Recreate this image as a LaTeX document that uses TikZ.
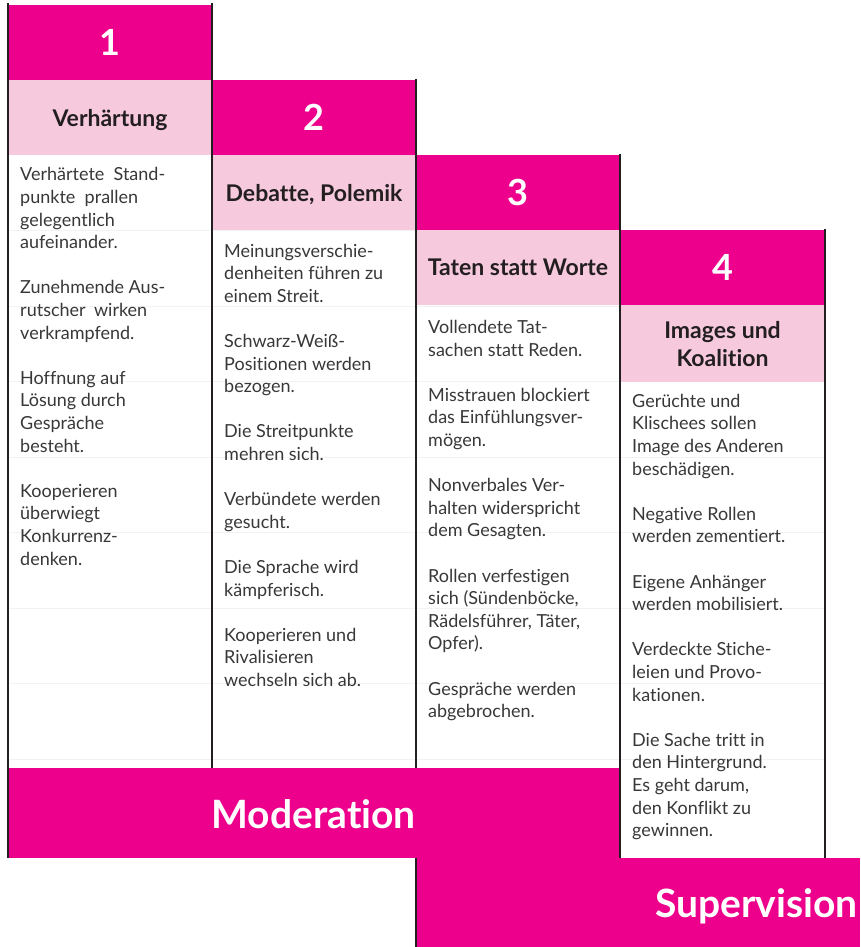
\documentclass[tikz,border=0pt]{standalone}
\usepackage{fontspec}
\setmainfont{Lato}[Ligatures={NoCommon}]
\definecolor{mag}{HTML}{EC008C}
\definecolor{rose}{HTML}{F7C9DD}
\definecolor{ink}{HTML}{231F20}
\definecolor{txt}{HTML}{383838}
\begin{document}
\begin{tikzpicture}[x=1pt,y=-1pt,
  block/.style={rectangle, inner sep=0pt, outer sep=0pt, anchor=north west},
  numbox/.style={block, fill=mag, text=white, font=\bfseries\fontsize{36}{40}\selectfont},
  titlebox/.style={block, fill=rose, text=ink, align=center, text depth=0pt, font=\bfseries\fontsize{23}{28}\selectfont},
  bodytext/.style={anchor=north west, inner sep=0pt, align=left, text=txt, font=\fontsize{18}{22.6}\selectfont},
  band/.style={block, fill=mag},
  bandtext/.style={anchor=base east, inner sep=0pt, text=white, font=\bfseries\fontsize{39}{42}\selectfont},
  rule/.style={ink, line width=2.4pt},
  faint/.style={black!5, line width=0.6pt},
]
\useasboundingbox[fill=white] (0,0) rectangle (860,947);

% faint ruling behind the text columns
\foreach \yy in {230.5,306,381.5,457,532.5,608,683.5,759}
  \draw[faint] (8,\yy) -- (825,\yy);

% column 1
\node[numbox, minimum width=204pt, minimum height=75pt] (h1) at (8,5) {1};
\node[titlebox, minimum width=204pt, minimum height=75pt] (t1) at (8,80) {Verhärtung};
% column 2
\node[numbox, minimum width=204pt, minimum height=75pt] (h2) at (212,80) {2};
\node[titlebox, minimum width=204pt, minimum height=75pt] (t2) at (212,155) {Debatte, Polemik};
% column 3
\node[numbox, minimum width=204pt, minimum height=75pt] (h3) at (416,155) {3};
\node[titlebox, minimum width=204pt, minimum height=75pt] (t3) at (416,230) {Taten statt Worte};
% column 4
\node[numbox, minimum width=205pt, minimum height=75pt] (h4) at (620,230) {4};
\node[titlebox, minimum width=205pt, minimum height=77pt] (t4) at (620,305) {Images und\\Koalition};

% bands at the foot
\node[band, minimum width=612pt, minimum height=90pt] (mod) at (8,768) {};
\node[band, minimum width=444pt, minimum height=89pt] (sup) at (416,858) {};
\node[bandtext] (modlabel) at (416,828) {Moderation};
\node[bandtext] (suplabel) at (858,917) {Supervision};

% column rules
\draw[rule] (8,3) -- (8,858);
\draw[rule] (212,3) -- (212,768);
\draw[rule] (416,79) -- (416,768);
\draw[rule] (416,858) -- (416,947);
\draw[rule] (620,154) -- (620,858);
\draw[rule] (825,229) -- (825,858);

% column texts
\node[bodytext] (b1) at (20,164.9) {\strut
  \makebox[145pt][s]{Verhärtete Stand-}\\
  \makebox[118pt][s]{punkte prallen}\\
  gelegentlich\\
  aufeinander.\\[22.6pt]
  \makebox[145pt][s]{Zunehmende Aus-}\\
  \makebox[127pt][s]{rutscher wirken}\\
  verkrampfend.\\[22.6pt]
  Hoffnung auf\\
  Lösung durch\\
  Gespräche\\
  besteht.\\[22.6pt]
  Kooperieren\\
  überwiegt\\
  Konkurrenz-\\
  denken.};

\node[bodytext] (b2) at (224,241) {\strut
  Meinungsverschie-\\
  denheiten führen zu\\
  einem Streit.\\[22.6pt]
  Schwarz-Weiß-\\
  Positionen werden\\
  bezogen.\\[22.6pt]
  Die Streitpunkte\\
  mehren sich.\\[22.6pt]
  Verbündete werden\\
  gesucht.\\[22.6pt]
  Die Sprache wird\\
  kämpferisch.\\[22.6pt]
  Kooperieren und\\
  Rivalisieren\\
  wechseln sich ab.};

\node[bodytext] (b3) at (428,317.5) {\strut
  Vollendete Tat-\\
  sachen statt Reden.\\[22.6pt]
  Misstrauen blockiert\\
  das Einfühlungsver-\\
  mögen.\\[22.6pt]
  Nonverbales Ver-\\
  halten widerspricht\\
  dem Gesagten.\\[22.6pt]
  Rollen verfestigen\\
  sich (Sündenböcke,\\
  Rädelsführer, Täter,\\
  Opfer).\\[22.6pt]
  Gespräche werden\\
  abgebrochen.};

\node[bodytext] (b4) at (632,391.2) {\strut
  Gerüchte und\\
  Klischees sollen\\
  Image des Anderen\\
  beschädigen.\\[22.6pt]
  Negative Rollen\\
  werden zementiert.\\[22.6pt]
  Eigene Anhänger\\
  werden mobilisiert.\\[22.6pt]
  Verdeckte Stiche-\\
  leien und Provo-\\
  kationen.\\[22.6pt]
  Die Sache tritt in\\
  den Hintergrund.\\
  Es geht darum,\\
  den Konflikt zu\\
  gewinnen.};
\end{tikzpicture}
\end{document}
